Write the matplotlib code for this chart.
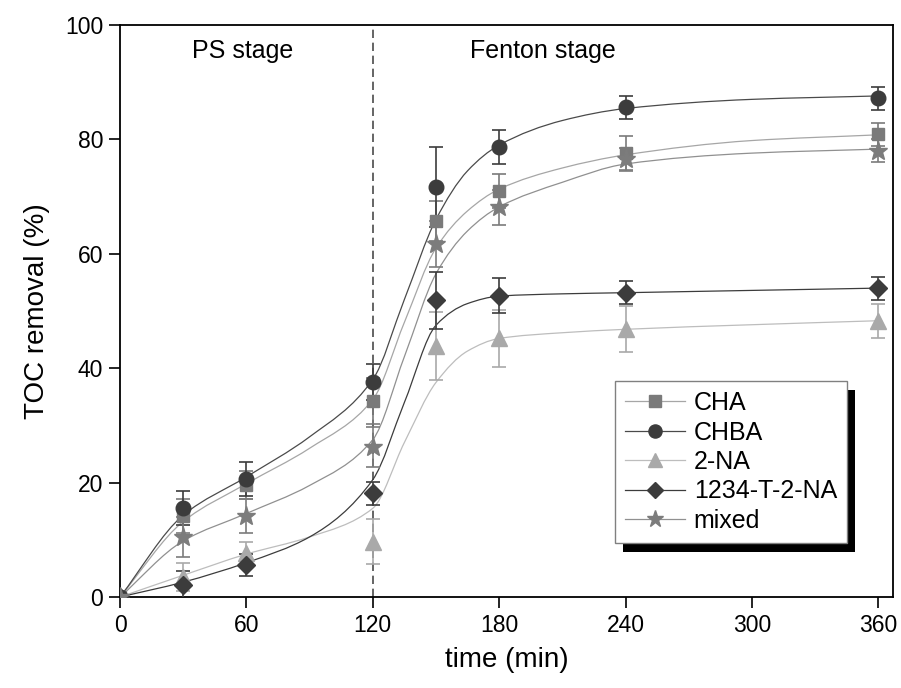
import matplotlib
matplotlib.use("Agg")
import matplotlib.pyplot as plt
import matplotlib.patheffects as pe
import numpy as np
from matplotlib.lines import Line2D
from matplotlib.path import Path
from matplotlib.patches import PathPatch

plt.rcParams['font.family'] = ['Liberation Sans', 'DejaVu Sans']

times = [0, 30, 60, 120, 150, 180, 240, 360]
series_names = ["CHA", "CHBA", "2-NA", "1234-T-2-NA", "mixed"]
cha = [0, 14.2, 19.6, 34.3, 65.7, 71.0, 77.6, 80.9]
cha_err = [0, 3.0, 2.5, 4.0, 3.5, 3.0, 3.0, 2.0]
chba = [0, 15.6, 20.6, 37.6, 71.6, 78.7, 85.6, 87.2]
chba_err = [0, 3.0, 3.0, 3.2, 7.0, 3.0, 2.0, 2.0]
na2 = [0, 3.5, 7.7, 9.7, 43.9, 45.2, 46.8, 48.3]
na2_err = [0, 2.5, 2.0, 4.0, 6.0, 5.0, 4.0, 3.0]
t2na = [0, 2.1, 5.6, 18.1, 51.9, 52.7, 53.2, 54.0]
t2na_err = [0, 2.5, 2.0, 2.0, 5.0, 3.0, 2.0, 2.0]
mixed = [0, 10.5, 14.2, 26.3, 61.7, 68.1, 76.5, 78.0]
mixed_err = [0, 3.5, 3.0, 3.5, 4.0, 3.0, 2.0, 2.0]

# fitted curves, values
fit_t = [0, 30, 60, 90, 120, 135, 150, 165, 180, 210, 240, 300, 360]
cha_fit = [0, 13.2, 19.8, 26.0, 34.5, 48.0, 61.0, 67.5, 71.3, 75.0, 77.3, 79.8, 80.8]
chba_fit = [0, 14.3, 21.0, 28.0, 38.0, 52.0, 66.0, 74.5, 79.0, 83.3, 85.4, 87.0, 87.6]
na2_fit = [0, 3.8, 7.5, 10.5, 15.5, 27.0, 37.5, 43.0, 45.2, 46.2, 46.8, 47.6, 48.3]
t2na_fit = [0, 2.6, 6.0, 10.5, 20.5, 34.0, 47.5, 51.3, 52.6, 53.0, 53.2, 53.6, 54.0]
mixed_fit = [0, 9.8, 14.6, 19.5, 27.5, 42.0, 56.5, 64.0, 68.2, 72.5, 75.7, 77.6, 78.3]

x_ticks = [0, 60, 120, 180, 240, 300, 360]
y_ticks = [0, 20, 40, 60, 80, 100]

styles = [
    # marker, size, marker colour, line colour
    ("s", 9, "#7a7a7a", "#a6a6a6"),
    ("o", 10.5, "#3c3c3c", "#4a4a4a"),
    ("^", 11, "#a9a9a9", "#bdbdbd"),
    ("D", 9.5, "#3c3c3c", "#3c3c3c"),
    ("*", 14, "#7c7c7c", "#909090"),
]


def smooth_path(x, y):
    # monotone cubic tangents, drawn as Bezier segments
    x = np.asarray(x, float)
    y = np.asarray(y, float)
    h = np.diff(x)
    d = np.diff(y) / h
    m = np.zeros_like(y)
    m[0], m[-1] = d[0], d[-1]
    for i in range(1, len(x) - 1):
        if d[i - 1] * d[i] > 0:
            w1 = 2 * h[i] + h[i - 1]
            w2 = h[i] + 2 * h[i - 1]
            m[i] = (w1 + w2) / (w1 / d[i - 1] + w2 / d[i])
    verts = [(x[0], y[0])]
    codes = [Path.MOVETO]
    for i in range(len(h)):
        verts += [(x[i] + h[i] / 3, y[i] + m[i] * h[i] / 3),
                  (x[i + 1] - h[i] / 3, y[i + 1] - m[i + 1] * h[i] / 3),
                  (x[i + 1], y[i + 1])]
        codes += [Path.CURVE4] * 3
    return Path(verts, codes)


fig = plt.figure(figsize=(9.01, 6.88), dpi=100)
ax = fig.add_axes([120 / 901, 1 - 597 / 688, 773 / 901, 572 / 688])

values = [cha, chba, na2, t2na, mixed]
errors = [cha_err, chba_err, na2_err, t2na_err, mixed_err]
fits = [cha_fit, chba_fit, na2_fit, t2na_fit, mixed_fit]

handles = []
for name, y, e, f, (mk, ms, mc, lc) in zip(series_names, values, errors,
                                           fits, styles):
    ax.add_patch(PathPatch(smooth_path(fit_t, f), fill=False,
                           edgecolor=lc, lw=0.9, zorder=2))
    ax.errorbar(times, y, yerr=e, fmt=mk, ms=ms, color=mc, mec=mc,
                ecolor=mc, elinewidth=1.2, capsize=5, capthick=1.2, zorder=3)
    handles.append(Line2D([], [], color=lc, lw=0.9, marker=mk, ms=ms * 0.9,
                          mfc=mc, mec=mc, label=name))

ax.axvline(120, color="#4a4a4a", lw=1.2, ls=(0, (5, 2.8)), zorder=1)

ax.text(58, 95.5, "PS stage", fontsize=18, ha="center", va="center")
ax.text(201, 95.5, "Fenton stage", fontsize=18, ha="center", va="center")

ax.set_xlim(0, 367)
ax.set_ylim(0, 100)
ax.set_xticks(x_ticks)
ax.set_yticks(y_ticks)
ax.tick_params(direction="out", length=8, width=1.2, labelsize=16.5, pad=4,
               top=False, right=False)
for sp in ax.spines.values():
    sp.set_linewidth(1.3)

ax.set_xlabel("time (min)", fontsize=20, va="center")
ax.xaxis.set_label_coords(0.5, -0.11)
ax.set_ylabel("TOC removal (%)", fontsize=20, va="center")
ax.yaxis.set_label_coords(-0.107, 0.5)

leg = ax.legend(handles=handles, loc="upper left",
                bbox_to_anchor=(615 / 901, 1 - 381 / 688),
                bbox_transform=fig.transFigure, borderaxespad=0,
                fontsize=18, frameon=True, fancybox=False, numpoints=1,
                handlelength=2.4, handletextpad=0.35, labelspacing=0.22,
                borderpad=0.4)
frame = leg.get_frame()
frame.set_edgecolor("#808080")
frame.set_linewidth(1.0)
frame.set_alpha(1)
frame.set_path_effects([pe.withSimplePatchShadow(offset=(5.8, -6.2),
                                                 shadow_rgbFace="black",
                                                 alpha=1.0)])

fig.savefig("out.png", dpi=100)
